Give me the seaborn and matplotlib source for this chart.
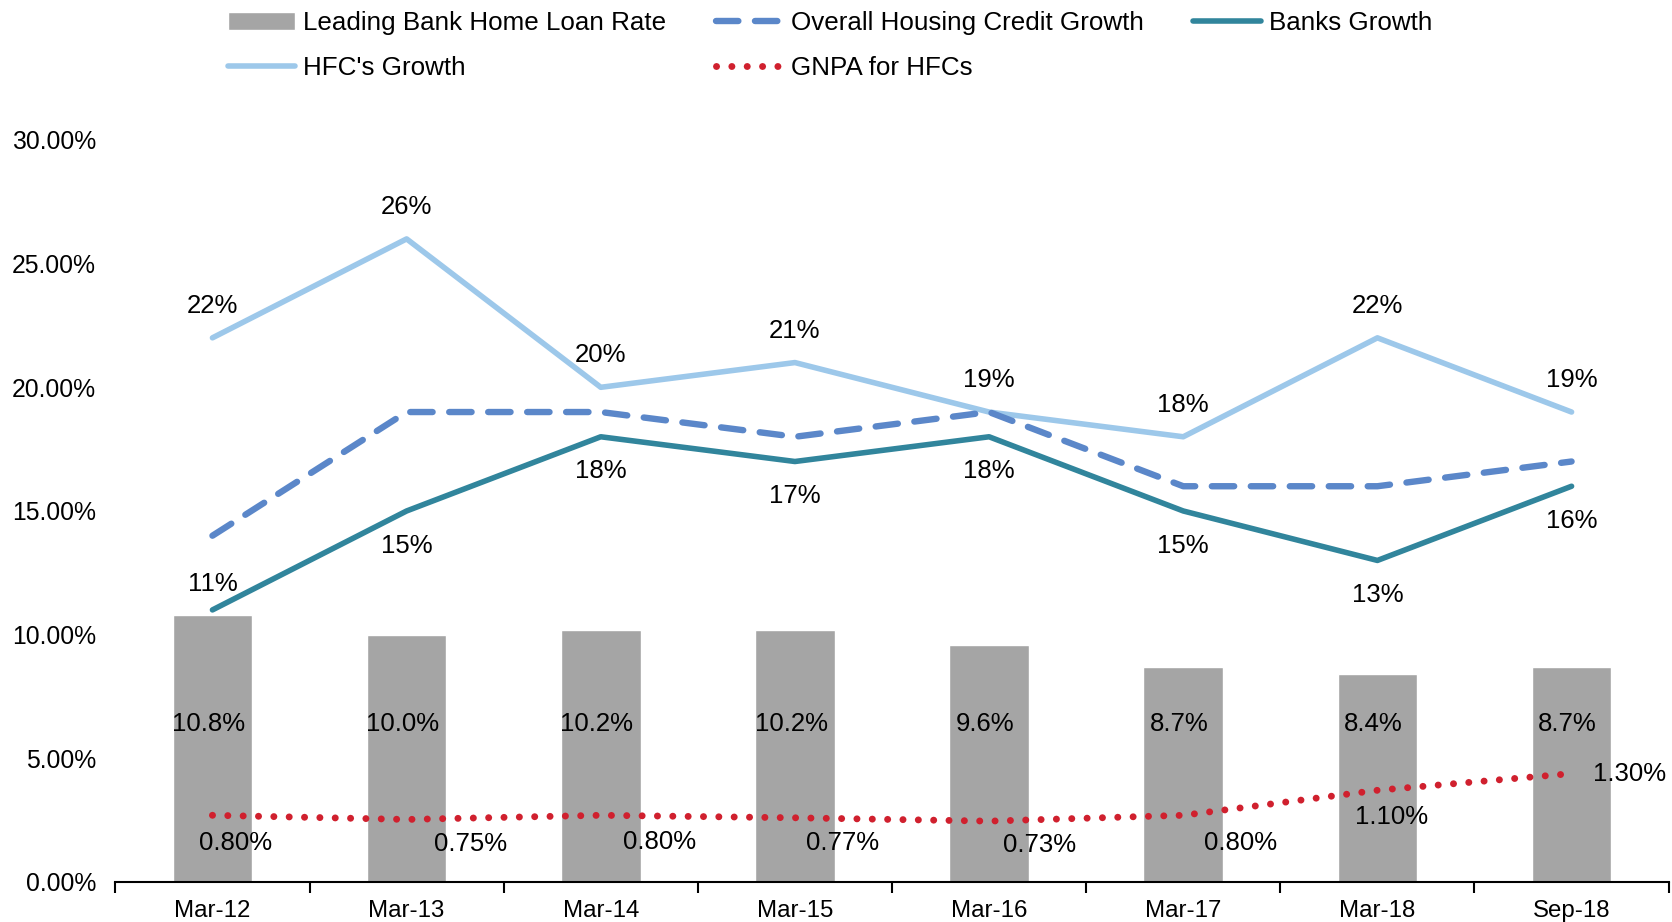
import numpy as np
import pandas as pd
import matplotlib.pyplot as plt
import seaborn as sns

periods = ["Mar-12", "Mar-13", "Mar-14", "Mar-15", "Mar-16", "Mar-17", "Mar-18", "Sep-18"]
home_loan_rate = [10.8, 10.0, 10.2, 10.2, 9.6, 8.7, 8.4, 8.7]
overall_growth = [14, 19, 19, 18, 19, 16, 16, 17]
banks_growth = [11, 15, 18, 17, 18, 15, 13, 16]
hfc_growth = [22, 26, 20, 21, 19, 18, 22, 19]
gnpa_hfc = [0.80, 0.75, 0.80, 0.77, 0.73, 0.80, 1.10, 1.30]

df = pd.DataFrame({
    "period": periods,
    "rate": np.array(home_loan_rate) / 100,
    "overall": np.array(overall_growth) / 100,
    "banks": np.array(banks_growth) / 100,
    "hfc": np.array(hfc_growth) / 100,
    "gnpa": np.array(gnpa_hfc) / 100,
})

sns.set_theme(style="white")
plt.rcParams["font.family"] = ["Liberation Sans", "DejaVu Sans"]
plt.rcParams["text.color"] = "black"
plt.rcParams["axes.labelcolor"] = "black"
plt.rcParams["xtick.color"] = "black"
plt.rcParams["ytick.color"] = "black"

C_BAR = "#A5A5A5"
C_OVERALL = "#5B87C9"
C_BANKS = "#31859C"
C_HFC = "#9DC8EA"
C_GNPA = "#D0202E"

fig = plt.figure(figsize=(16.72, 9.22), dpi=100)
ax = fig.add_axes([0.069, 0.0434, 0.929, 0.8048])
ax2 = ax.twinx()

# bars for the lending rate
sns.barplot(data=df, x="period", y="rate", color=C_BAR, width=0.41,
            saturation=1, ax=ax, label="Leading Bank Home Loan Rate")
bar_handle = ax.containers[0]

# growth lines
sns.lineplot(data=df, x="period", y="hfc", color=C_HFC, lw=4, ax=ax,
             sort=False, label="HFC's Growth", legend=False)
l_hfc = ax.lines[-1]
sns.lineplot(data=df, x="period", y="overall", color=C_OVERALL, lw=4.6, ax=ax,
             sort=False, label="Overall Housing Credit Growth", legend=False)
l_overall = ax.lines[-1]
l_overall.set_dashes((3.5, 2.6))
l_overall.set_dash_capstyle("round")
sns.lineplot(data=df, x="period", y="banks", color=C_BANKS, lw=4, ax=ax,
             sort=False, label="Banks Growth", legend=False)
l_banks = ax.lines[-1]

# GNPA on a hidden secondary scale
sns.lineplot(data=df, x="period", y="gnpa", color=C_GNPA, lw=5, ax=ax2,
             sort=False, label="GNPA for HFCs", legend=False)
l_gnpa = ax2.lines[-1]
l_gnpa.set_dashes((0.01, 2.2))
l_gnpa.set_dash_capstyle("round")

for a in (ax, ax2):
    if a.get_legend():
        a.get_legend().remove()

ax.set_ylim(0, 0.30)
ax2.set_ylim(0, 0.089)
ax.set_xlim(-0.5, len(periods) - 0.5)
yt = np.arange(0, 0.301, 0.05)
ax.set_yticks(yt)
ax.set_yticklabels([f"{v * 100:.2f}%" for v in yt])
ax2.set_yticks([])
ax.set_xlabel("")
ax.set_ylabel("")
ax2.set_ylabel("")

for a in (ax, ax2):
    for s in ("top", "right", "left", "bottom"):
        a.spines[s].set_visible(False)
ax.spines["bottom"].set_visible(True)
ax.spines["bottom"].set_color("black")
ax.spines["bottom"].set_linewidth(1.5)

ax.tick_params(axis="y", length=0, pad=14, labelsize=17.8, colors="black")
ax.tick_params(axis="x", which="major", length=0, pad=13, labelsize=17.3, colors="black")
ax.set_xticks(np.arange(-0.5, len(periods)), minor=True)
ax.tick_params(axis="x", which="minor", bottom=True, length=8, width=1.5, color="black")

fs = 18.5
for i, v in enumerate(home_loan_rate):
    ax.text(i - 0.02, 0.064, f"{v:.1f}%", ha="center", va="center", fontsize=fs)
for i, v in enumerate(hfc_growth):
    ax.annotate(f"{v}%", (i, v / 100), xytext=(0, 23), textcoords="offset points",
                ha="center", va="center", fontsize=fs)
for i, v in enumerate(banks_growth):
    dy = 19 if i == 0 else -25
    ax.annotate(f"{v}%", (i, v / 100), xytext=(0, dy), textcoords="offset points",
                ha="center", va="center", fontsize=fs)

gnpa_dx = [17, 46, 42, 34, 36, 41, 10, 42]
gnpa_dy = [-20, -18, -19, -18, -17, -20, -19, 0]
for i, v in enumerate(gnpa_hfc):
    ax2.annotate(f"{v:.2f}%", (i, v / 100), xytext=(gnpa_dx[i], gnpa_dy[i]),
                 textcoords="offset points", ha="center", va="center", fontsize=fs)

handles = [bar_handle, l_hfc, l_overall, l_gnpa, l_banks]
labels = ["Leading Bank Home Loan Rate", "HFC's Growth", "Overall Housing Credit Growth",
          "GNPA for HFCs", "Banks Growth"]
fig.legend(handles, labels, loc="upper left", bbox_to_anchor=(0.127, 1.005), ncol=3,
           frameon=False, fontsize=18.7, handlelength=2.6, handletextpad=0.3,
           columnspacing=1.9, labelspacing=0.8, borderpad=0.1)

fig.savefig("out.png", dpi=100)
